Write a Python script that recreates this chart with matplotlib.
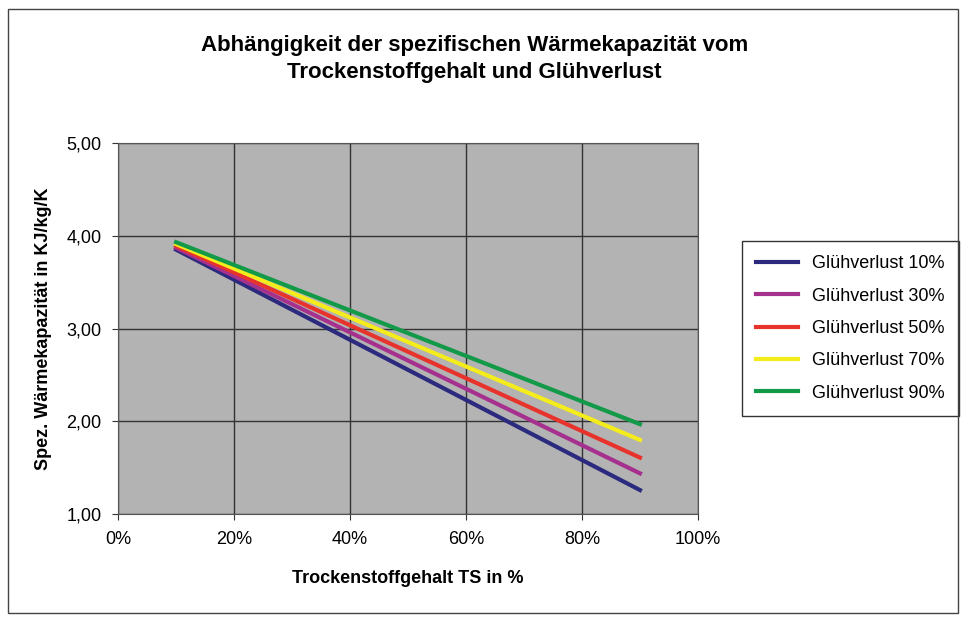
import matplotlib
matplotlib.use("Agg")
import matplotlib.pyplot as plt
from matplotlib.patches import Rectangle

ts = [0.10, 0.90]
labels = ["Glühverlust 10%", "Glühverlust 30%", "Glühverlust 50%", "Glühverlust 70%", "Glühverlust 90%"]
start_vals = [3.85, 3.87, 3.89, 3.91, 3.93]
end_vals = [1.26, 1.44, 1.61, 1.80, 1.97]
colors = ["#2b2a7e", "#a6308e", "#e8322c", "#f5ec1c", "#129a48"]
xticks = [0, 0.2, 0.4, 0.6, 0.8, 1.0]
xticklabels = ["0%", "20%", "40%", "60%", "80%", "100%"]
yticks = [1, 2, 3, 4, 5]
yticklabels = ["1,00", "2,00", "3,00", "4,00", "5,00"]

plt.rcParams['font.family'] = ['Liberation Sans', 'DejaVu Sans']
fig = plt.figure(figsize=(9.68, 6.24), dpi=100)
fig.patches.append(Rectangle((0.008, 0.018), 0.982, 0.968, transform=fig.transFigure,
                             fill=False, edgecolor="#444444", linewidth=1))
ax = fig.add_axes([0.122, 0.176, 0.599, 0.595])
ax.set_facecolor("#b3b3b3")
for s, e, c, l in zip(start_vals, end_vals, colors, labels):
    ax.plot(ts, [s, e], color=c, linewidth=3, label=l)
ax.set_xlim(0, 1); ax.set_ylim(1, 5)
ax.set_xticks(xticks); ax.set_xticklabels(xticklabels, fontsize=13)
ax.set_yticks(yticks); ax.set_yticklabels(yticklabels, fontsize=13)
ax.grid(True, color="#333333", linewidth=1)
ax.set_axisbelow(True)
for sp in ax.spines.values():
    sp.set_color("#555555")
ax.tick_params(length=4, color="#333333", pad=8)
ax.set_xlabel("Trockenstoffgehalt TS in %", fontsize=13, fontweight="bold", labelpad=16)
ax.set_ylabel("Spez. Wärmekapazität in KJ/kg/K", fontsize=13, fontweight="bold", labelpad=10)
fig.text(0.49, 0.905, "Abhängigkeit der spezifischen Wärmekapazität vom\nTrockenstoffgehalt und Glühverlust",
         ha="center", va="center", fontsize=16, fontweight="bold", linespacing=1.4)
leg = ax.legend(loc="center left", bbox_to_anchor=(1.06, 0.5), fontsize=13, frameon=True,
                fancybox=False, edgecolor="black", handlelength=2.3, borderpad=0.8, labelspacing=0.85)
leg.get_frame().set_linewidth(1)
fig.savefig("out.png", dpi=100)
